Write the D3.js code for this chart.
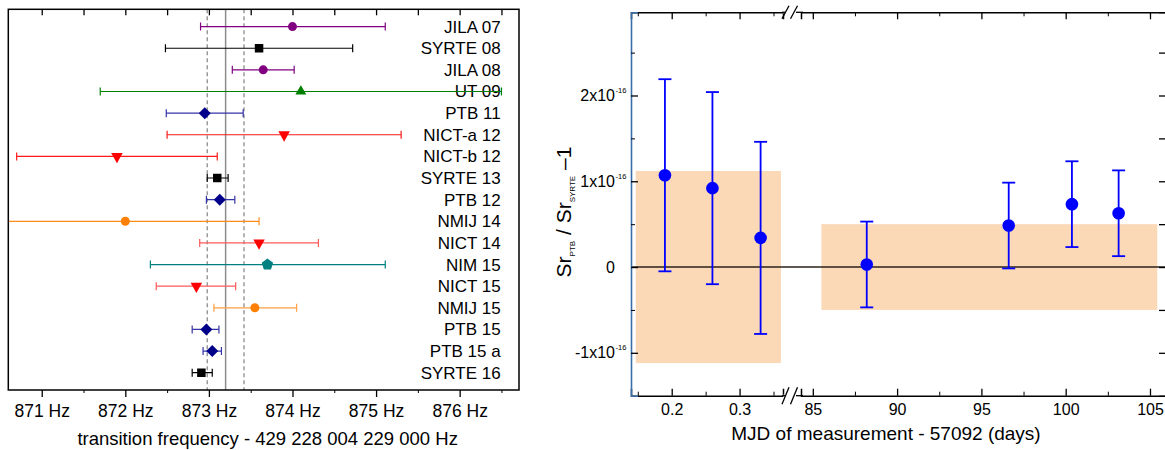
<!DOCTYPE html>
<html>
<head>
<meta charset="utf-8">
<script src="https://cdn.jsdelivr.net/npm/d3@7"></script>
<style>
  body { margin: 0; background: #fff; }
  svg { display: block; font-family: "Liberation Sans", Arial, sans-serif; }
</style>
</head>
<body>
<svg id="chart" width="1165" height="450"></svg>
<script>
// ---- left panel: Sr clock transition frequency comparisons ----
var labels = ["JILA 07", "SYRTE 08", "JILA 08", "UT 09", "PTB 11", "NICT-a 12", "NICT-b 12",
  "SYRTE 13", "PTB 12", "NMIJ 14", "NICT 14", "NIM 15", "NICT 15", "NMIJ 15", "PTB 15", "PTB 15 a", "SYRTE 16"];
var groups = ["JILA", "SYRTE", "JILA", "UT", "PTB", "NICT", "NICT",
  "SYRTE", "PTB", "NMIJ", "NICT", "NIM", "NICT", "NMIJ", "PTB", "PTB", "SYRTE"];
var freq = [874.00, 873.60, 873.65, 874.10, 872.95, 873.90, 871.90,
  873.10, 873.13, 872.00, 873.60, 873.70, 872.85, 873.55, 872.97, 873.04, 872.91];
var freqLow = [872.90, 872.48, 873.28, 871.70, 872.49, 872.50, 870.70,
  872.98, 872.97, 870.40, 872.89, 872.30, 872.37, 873.06, 872.80, 872.93, 872.80];
var freqHigh = [875.11, 874.72, 874.02, 876.50, 873.41, 875.30, 873.10,
  873.23, 873.31, 873.60, 874.31, 875.11, 873.32, 874.05, 873.12, 873.15, 873.04];
var meanFreq = 873.20;
var meanBand = [872.98, 873.42];
var freqTicks = [871, 872, 873, 874, 875, 876];

// ---- right panel: PTB / SYRTE ratio ----
var mjdEarly = [0.190, 0.260, 0.331];
var ratioEarly = [1.07, 0.92, 0.34];
var errEarly = [1.12, 1.12, 1.12];
var mjdLate = [88.2, 96.62, 100.37, 103.14];
var ratioLate = [0.03, 0.484, 0.733, 0.627];
var errLate = [0.50, 0.50, 0.50, 0.50];
var bandEarly = { x: [0.147, 0.361], y: [-1.12, 1.12] };
var bandLate = { x: [85.51, 105.43], y: [-0.50, 0.50] };
var earlyTicks = [0.2, 0.3], earlyMinor = [0.15, 0.25, 0.35];
var lateTicks = [85, 90, 95, 100, 105], lateMinor = [87.5, 92.5, 97.5, 102.5];
var ratioTicks = [-1, 0, 1, 2], ratioMinor = [-0.5, 0.5, 1.5, 2.5];

var styles = {
  JILA: { color: "#800080", bar: "#800080", marker: "circle" },
  SYRTE: { color: "#000000", bar: "#000000", marker: "square" },
  UT: { color: "#008000", bar: "#008000", marker: "triUp" },
  PTB: { color: "#00008b", bar: "#3535a8", marker: "diamond" },
  NICT: { color: "#ff0000", bar: "#ff1a1a", marker: "triDown" },
  NMIJ: { color: "#ff8000", bar: "#ff8c1a", marker: "circle" },
  NIM: { color: "#008080", bar: "#008080", marker: "pentagon" }
};
var lighterBars = { "NICT 14": "#ff5a5a", "NICT 15": "#ff5a5a", "NMIJ 15": "#ffa040" };

// marker shapes, size = width in px
var shapes = {
  circle: { draw: function(c, s){ var r = s / 2; c.moveTo(r, 0); c.arc(0, 0, r, 0, 2 * Math.PI); } },
  square: { draw: function(c, s){ var r = s / 2; c.rect(-r, -r, s, s); } },
  triUp: { draw: function(c, s){ var r = s / 2, h = s * 0.85;
    c.moveTo(0, -h * 2 / 3); c.lineTo(r, h / 3); c.lineTo(-r, h / 3); c.closePath(); } },
  triDown: { draw: function(c, s){ var r = s / 2, h = s * 0.9;
    c.moveTo(-r, -h / 3); c.lineTo(r, -h / 3); c.lineTo(0, h * 2 / 3); c.closePath(); } },
  diamond: { draw: function(c, s){ var r = s / 2;
    c.moveTo(0, -r); c.lineTo(r, 0); c.lineTo(0, r); c.lineTo(-r, 0); c.closePath(); } },
  pentagon: { draw: function(c, s){ var r = s / 2;
    for (var k = 0; k < 5; k++) {
      var a = -Math.PI / 2 + k * 2 * Math.PI / 5;
      if (k == 0) c.moveTo(r * Math.cos(a), r * Math.sin(a)); else c.lineTo(r * Math.cos(a), r * Math.sin(a));
    }
    c.closePath(); } }
};
var shapeSize = { circle: 9, square: 8.5, triUp: 11, triDown: 11.5, diamond: 12, pentagon: 12 };

var svg = d3.select("#chart");

// ================= LEFT PANEL =================
var L = { left: 8.3, right: 519, top: 9.3, bottom: 390 };
var xL = d3.scaleLinear().domain([870.6, 876.71]).range([L.left, L.right]);
var yL = d3.scalePoint().domain(labels).range([L.top, L.bottom]).padding(0.8);

svg.append("clipPath").attr("id", "clipL").append("rect")
  .attr("x", L.left).attr("y", L.top).attr("width", L.right - L.left).attr("height", L.bottom - L.top);

var left = svg.append("g");

// reference lines
left.append("line")
  .attr("x1", xL(meanFreq)).attr("x2", xL(meanFreq)).attr("y1", L.top).attr("y2", L.bottom)
  .attr("stroke", "#8c8c8c").attr("stroke-width", 1.5);
left.selectAll(".band").data(meanBand).enter().append("line")
  .attr("x1", function(d){ return xL(d); }).attr("x2", function(d){ return xL(d); })
  .attr("y1", L.top).attr("y2", L.bottom)
  .attr("stroke", "#8c8c8c").attr("stroke-width", 1.3).attr("stroke-dasharray", "4,3");

// row labels
left.selectAll(".rowlab").data(labels).enter().append("text")
  .attr("x", 500.7).attr("y", function(d){ return yL(d) + 6; })
  .attr("text-anchor", "end").attr("font-size", 17).attr("fill", "#000")
  .text(function(d){ return d; });

var rows = labels.map(function(d, i){
  var st = styles[groups[i]];
  return { label: d, f: freq[i], lo: freqLow[i], hi: freqHigh[i], st: st, bar: lighterBars[d] || st.bar };
});

var bars = left.append("g").attr("clip-path", "url(#clipL)");
var rowG = bars.selectAll(".row").data(rows).enter().append("g")
  .attr("transform", function(d){ return "translate(0," + yL(d.label) + ")"; });
rowG.append("line")
  .attr("x1", function(d){ return xL(d.lo); }).attr("x2", function(d){ return xL(d.hi); })
  .attr("stroke", function(d){ return d.bar; }).attr("stroke-width", 1.2);
rowG.selectAll(".cap").data(function(d){ return [[d.lo, d.bar], [d.hi, d.bar]]; }).enter().append("line")
  .attr("x1", function(d){ return xL(d[0]); }).attr("x2", function(d){ return xL(d[0]); })
  .attr("y1", -4).attr("y2", 4)
  .attr("stroke", function(d){ return d[1]; }).attr("stroke-width", 1.2);
rowG.append("path")
  .attr("transform", function(d){ return "translate(" + xL(d.f) + ",0)"; })
  .attr("d", function(d){ return d3.symbol().type(shapes[d.st.marker]).size(shapeSize[d.st.marker])(); })
  .attr("fill", function(d){ return d.st.color; });

// axes
var axB = left.append("g").attr("transform", "translate(0," + L.bottom + ")")
  .call(d3.axisBottom(xL).tickValues(freqTicks).tickSize(7).tickPadding(8)
    .tickFormat(function(d){ return d + " Hz"; }));
axB.select(".domain").remove();
axB.selectAll("text").attr("font-size", 17.5).attr("font-family", "Liberation Sans, Arial").attr("fill", "#000");
axB.selectAll("line").attr("stroke-width", 1.3);
var axBm = left.append("g").attr("transform", "translate(0," + L.bottom + ")")
  .call(d3.axisBottom(xL).tickValues(freqTicks.map(function(d){ return d + 0.5; })).tickSize(3).tickFormat(""));
axBm.select(".domain").remove();
var axT = left.append("g").attr("transform", "translate(0," + L.top + ")")
  .call(d3.axisTop(xL).tickValues(d3.merge([freqTicks, freqTicks.map(function(d){ return d + 0.5; })]))
    .tickSize(-6).tickFormat(""));
axT.select(".domain").remove();
axT.selectAll("line").attr("stroke-width", 1.3);

left.append("rect")
  .attr("x", L.left).attr("y", L.top).attr("width", L.right - L.left).attr("height", L.bottom - L.top)
  .attr("fill", "none").attr("stroke", "#000").attr("stroke-width", 1.5);

left.append("text")
  .attr("x", (L.left + L.right) / 2 + 4).attr("y", 445)
  .attr("text-anchor", "middle").attr("font-size", 18.5)
  .text("transition frequency - 429 228 004 229 000 Hz");

// ================= RIGHT PANEL =================
var R = { left: 631, right: 1166, top: 12.3, bottom: 395.7, breakA: 783, breakB: 801 };
var xA = d3.scaleLinear().domain([0.14, 0.364]).range([R.left, R.breakA]);
var xB = d3.scaleLinear().domain([84.3, 105.95]).range([R.breakB, R.right]);
var yR = d3.scaleLinear().domain([-1.5, 2.97]).range([R.bottom, R.top]);
var blue = "#0000ff";

var right = svg.append("g");

// uncertainty bands
right.selectAll(".bandRect").data([[bandEarly, xA], [bandLate, xB]]).enter().append("rect")
  .attr("x", function(d){ return d[1](d[0].x[0]); })
  .attr("width", function(d){ return d[1](d[0].x[1]) - d[1](d[0].x[0]); })
  .attr("y", function(d){ return yR(d[0].y[1]); })
  .attr("height", function(d){ return yR(d[0].y[0]) - yR(d[0].y[1]); })
  .attr("fill", "#fbd9b7");

// zero line
right.append("line")
  .attr("x1", R.left).attr("x2", R.right).attr("y1", yR(0)).attr("y2", yR(0))
  .attr("stroke", "#2b2118").attr("stroke-width", 1.6);

var pts = mjdEarly.map(function(d, i){ return { x: xA(d), v: ratioEarly[i], e: errEarly[i] }; })
  .concat(mjdLate.map(function(d, i){ return { x: xB(d), v: ratioLate[i], e: errLate[i] }; }));

var pG = right.selectAll(".pt").data(pts).enter().append("g");
pG.append("line")
  .attr("x1", function(d){ return d.x; }).attr("x2", function(d){ return d.x; })
  .attr("y1", function(d){ return yR(d.v - d.e); }).attr("y2", function(d){ return yR(d.v + d.e); })
  .attr("stroke", blue).attr("stroke-width", 1.8);
pG.selectAll(".cap").data(function(d){ return [[d.x, d.v - d.e], [d.x, d.v + d.e]]; }).enter().append("line")
  .attr("x1", function(d){ return d[0] - 6.5; }).attr("x2", function(d){ return d[0] + 6.5; })
  .attr("y1", function(d){ return yR(d[1]); }).attr("y2", function(d){ return yR(d[1]); })
  .attr("stroke", blue).attr("stroke-width", 1.8);
pG.append("circle")
  .attr("cx", function(d){ return d.x; }).attr("cy", function(d){ return yR(d.v); })
  .attr("r", 6.3).attr("fill", blue);

function xAxis(g, scale, major, minor, y, top){
  var mk = top ? d3.axisTop : d3.axisBottom;
  var a = g.append("g").attr("transform", "translate(0," + y + ")")
    .call(mk(scale).tickValues(major).tickSize(-7).tickPadding(top ? 0 : 8)
      .tickFormat(top ? "" : function(d){ return d < 1 ? d3.format(".1f")(d) : d; }));
  a.selectAll("text").attr("font-size", 16).attr("font-family", "Liberation Sans, Arial").attr("fill", "#000");
  a.select(".domain").attr("stroke-width", 1.5);
  a.selectAll(".tick line").attr("stroke-width", 1.3);
  var m = g.append("g").attr("transform", "translate(0," + y + ")")
    .call(mk(scale).tickValues(minor).tickSize(-4).tickFormat(""));
  m.select(".domain").remove();
}
xAxis(right, xA, earlyTicks, earlyMinor, R.bottom, false);
xAxis(right, xB, lateTicks, lateMinor, R.bottom, false);
xAxis(right, xA, earlyTicks, earlyMinor, R.top, true);
xAxis(right, xB, lateTicks, lateMinor, R.top, true);

// y axes
var axL = right.append("g").attr("transform", "translate(" + R.left + ",0)")
  .call(d3.axisLeft(yR).tickValues(ratioTicks).tickSize(-7).tickPadding(16)
    .tickFormat(function(d){ return d == 0 ? "0" : d + "x10"; }));
axL.select(".domain").attr("stroke", "#3a6ea8").attr("stroke-width", 1.6);
axL.selectAll(".tick line").attr("stroke-width", 1.3);
axL.selectAll("text").attr("font-size", 16).attr("font-family", "Liberation Sans, Arial").attr("fill", "#000");
axL.selectAll(".tick").filter(function(d){ return d != 0; }).append("text")
  .attr("x", -15.5).attr("y", -3).attr("text-anchor", "start")
  .attr("font-size", 7.5).attr("fill", "#000").text("-16");
var axLm = right.append("g").attr("transform", "translate(" + R.left + ",0)")
  .call(d3.axisLeft(yR).tickValues(ratioMinor).tickSize(-4).tickFormat(""));
axLm.select(".domain").remove();

var axR = right.append("g").attr("transform", "translate(" + R.right + ",0)")
  .call(d3.axisRight(yR).tickValues(d3.merge([ratioTicks, ratioMinor])).tickSize(-7).tickFormat(""));
axR.selectAll(".tick line").attr("stroke-width", 1.3);

// axis break marks
var brk = right.append("g").attr("stroke", "#000").attr("stroke-width", 1.3);
[R.top, R.bottom].forEach(function(y, j){
  var h = j == 0 ? 6.5 : 8.5;
  brk.append("rect").attr("x", R.breakA).attr("y", y - 1).attr("width", 14).attr("height", 2)
    .attr("fill", "#fff").attr("stroke", "none");
  [R.breakA + 2.5, R.breakA + 11].forEach(function(cx){
    brk.append("line").attr("x1", cx - 3.5).attr("y1", y + h).attr("x2", cx + 3.5).attr("y2", y - h);
  });
  brk.append("line").attr("x1", R.breakA - 1).attr("x2", R.breakA + 2).attr("y1", y).attr("y2", y);
  brk.append("line").attr("x1", R.breakA + 13).attr("x2", R.breakB + 2).attr("y1", y).attr("y2", y);
});

// titles
right.append("text")
  .attr("x", 886).attr("y", 440).attr("text-anchor", "middle").attr("font-size", 19)
  .text("MJD of measurement - 57092 (days)");

var yt = right.append("text")
  .attr("transform", "translate(570.5,212) rotate(-90)")
  .attr("text-anchor", "middle").attr("font-size", 21);
yt.append("tspan").text("Sr");
yt.append("tspan").attr("font-size", 8).attr("dy", 4).text("PTB");
yt.append("tspan").attr("dy", -4).text(" / Sr");
yt.append("tspan").attr("font-size", 8).attr("dy", 4).text("SYRTE");
yt.append("tspan").attr("dy", -4).text(" \u20131");
</script>
</body>
</html>
